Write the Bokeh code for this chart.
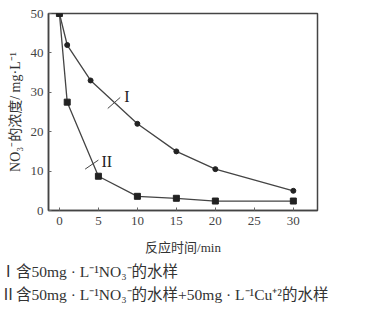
from bokeh.plotting import figure
from bokeh.models import Label, Range1d, FixedTicker, Segment, ColumnDataSource, Title
from bokeh.embed import file_html
from bokeh.resources import INLINE

# data
t1 = [0, 1, 4, 10, 15, 20, 30]
c1 = [50, 42, 33, 22, 15, 10.5, 5]
t2 = [0, 1, 5, 10, 15, 20, 30]
c2 = [50, 27.5, 8.7, 3.6, 3.1, 2.4, 2.4]
x_ticks = [0, 5, 10, 15, 20, 25, 30]
y_ticks = [0, 10, 20, 30, 40, 50]

CJK = "Noto Sans CJK SC"
MIX = "'Liberation Serif', 'Noto Sans CJK SC'"
SERIF = "Liberation Serif"
INK = "#333333"

p = figure(width=353, height=304, output_backend="svg", toolbar_location=None,
           x_range=Range1d(-1.4, 33.1), y_range=Range1d(0, 50),
           min_border_left=48, min_border_right=36, min_border_top=13,
           min_border_bottom=0)
p.grid.visible = False
p.outline_line_color = "#444444"
p.outline_line_width = 1.5

for ax in (p.xaxis[0], p.yaxis[0]):
    ax.axis_line_color = "#444444"
    ax.axis_line_width = 1.5
    ax.major_tick_line_color = "#666666"
    ax.major_tick_in = 3
    ax.major_tick_out = 0
    ax.minor_tick_line_color = None
    ax.major_label_text_font = SERIF
    ax.major_label_text_font_size = "13px"
    ax.major_label_text_color = "#444444"
    ax.axis_label_text_font = MIX
    ax.axis_label_text_font_style = "normal"
    ax.axis_label_text_color = INK

p.xaxis.ticker = FixedTicker(ticks=x_ticks)
p.yaxis.ticker = FixedTicker(ticks=y_ticks)
p.xaxis.major_label_standoff = 6
p.yaxis.major_label_standoff = 5
p.xaxis.axis_label = "反应时间/min"
p.xaxis.axis_label_text_font_size = "13px"
p.xaxis.axis_label_standoff = 12
p.yaxis.axis_label = "NO₃⁻的浓度/ mg·L⁻¹"
p.yaxis.axis_label_text_font_size = "14px"
p.yaxis.axis_label_standoff = 5

p.line(t1, c1, line_color="#444444", line_width=1.3)
p.scatter(t1, c1, marker="circle", size=5, color="#222222")
p.line(t2, c2, line_color="#444444", line_width=1.3)
p.scatter(t2, c2, marker="square", size=6, color="#222222")

# curve labels with leader lines
lead = ColumnDataSource(dict(x0=[6.2, 3.3], y0=[25.9, 10.5], x1=[7.8, 5.0], y1=[28.7, 12.8]))
p.add_glyph(lead, Segment(x0="x0", y0="y0", x1="x1", y1="y1", line_color="#444444", line_width=1))
p.add_layout(Label(x=8.3, y=29, text="I", text_font=SERIF, text_font_size="16px",
                   text_color="#222222", text_baseline="middle"))
p.add_layout(Label(x=5.4, y=12.5, text="II", text_font=SERIF, text_font_size="16px",
                   text_color="#222222", text_baseline="middle"))

legend1 = "Ⅰ含50mg · L⁻¹NO₃⁻的水样"
legend2 = "Ⅱ含50mg · L⁻¹NO₃⁻的水样+50mg · L⁻¹Cu⁺²的水样"
for txt, sd in ((legend1, 6), (legend2, 3)):
    p.add_layout(Title(text=txt, align="left", offset=-48, text_font=MIX,
                       text_font_size="15.5px", text_font_style="normal",
                       text_color=INK, standoff=sd), "below")

open("out.html", "w").write(file_html(p, INLINE))
